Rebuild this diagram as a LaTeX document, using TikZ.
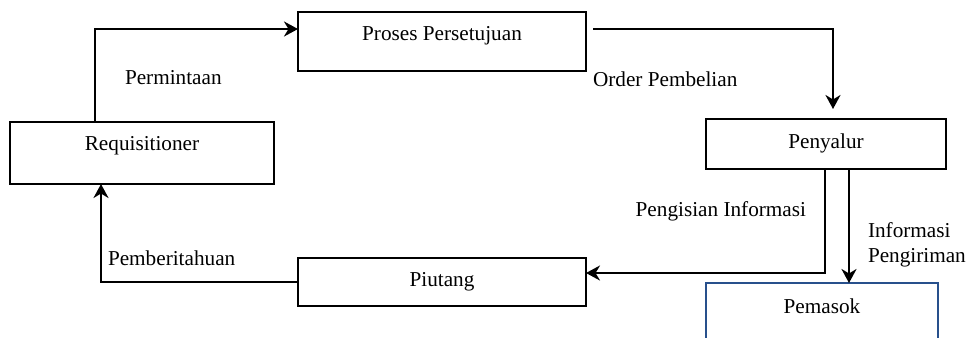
\documentclass[tikz,border=0pt]{standalone}
\usepackage{fontspec}
\setmainfont{Liberation Serif}
\usetikzlibrary{arrows.meta}
\definecolor{boxblue}{RGB}{40,80,140}
\begin{document}
\begin{tikzpicture}[x=1bp,y=-1bp,
  font=\fontsize{21.3}{25}\selectfont,
  box/.style={draw, line width=2.8bp, rectangle, inner sep=0, outer sep=0},
  txt/.style={inner sep=0, outer sep=0},
  flow/.style={line width=2.8bp, -{Stealth[length=14bp,width=15bp,inset=4.5bp]}}]
\clip (0,0) rectangle (973,337);
\fill[white] (0,0) rectangle (973,337);

% process boxes
\node[box, minimum width=264bp, minimum height=62bp] (req) at (142,153) {};
\node[txt] (reqt) at (142,146) {Requisitioner};
\node[box, minimum width=288bp, minimum height=59bp] (pro) at (442,41.5) {};
\node[txt] (prot) at (442,36) {Proses Persetujuan};
\node[box, minimum width=240bp, minimum height=50bp] (pen) at (826,144) {};
\node[txt] (pent) at (826,143) {Penyalur};
\node[box, minimum width=288bp, minimum height=48bp] (piu) at (442,282) {};
\node[txt] (piut) at (442,282) {Piutang};
\node[box, draw=boxblue, line width=1.8bp, minimum width=232bp, minimum height=80bp] (pem) at (822,323) {};
\node[txt] (pemt) at (822,306) {Pemasok};

% connectors
\coordinate (po) at (593,29);
\draw[flow] (95,0 |- req.north) |- (pro.west |- 0,29);
\draw[flow, shorten >=10bp] (po) -| (833,0 |- pen.north);
\draw[flow] (825,0 |- pen.south) |- (piu.east |- 0,273);
\draw[flow] (849,0 |- pen.south) -- (849,0 |- pem.north);
\draw[flow] (piu.west) -| (101,0 |- req.south);

% flow labels
\node[txt, anchor=west] (l1) at (125,78) {Permintaan};
\node[txt, anchor=west] (l2) at (593,79) {Order Pembelian};
\node[txt, anchor=east] (l3) at (806,211) {Pengisian Informasi};
\node[txt, anchor=west, align=left] (l4) at (868,245) {Informasi\\Pengiriman};
\node[txt, anchor=west] (l5) at (108,258) {Pemberitahuan};
\end{tikzpicture}
\end{document}
